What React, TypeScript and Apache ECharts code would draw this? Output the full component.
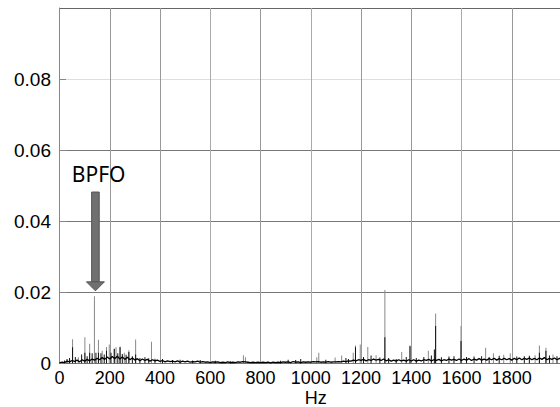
import React, { useEffect, useRef } from "react";
import * as echarts from "echarts";

// Frequency axis (Hz)
const xMin = 0;
const xMax = 1992;
const xInterval = 200;
// Amplitude axis
const yMin = 0;
const yMax = 0.1;
const yInterval = 0.02;

// Noise floor, sampled every 10 Hz from 0 Hz, in units of 1e-4
const floorStepHz = 10;
const floorAmp1e4 = [
  1, 3, 2, 6, 4, 8, 5, 9, 4, 10,
  6, 11, 7, 12, 9, 14, 10, 16, 11, 18,
  12, 19, 13, 20, 12, 18, 11, 17, 10, 15,
  9, 13, 7, 12, 8, 11, 6, 10, 7, 9,
  5, 8, 4, 7, 5, 6, 4, 7, 3, 6,
  4, 6, 3, 5, 4, 6, 3, 5, 3, 4,
  2, 4, 3, 4, 2, 3, 2, 4, 2, 3,
  2, 4, 3, 5, 4, 3, 2, 3, 2, 3,
  2, 3, 2, 3, 1, 3, 2, 3, 2, 4,
  3, 4, 2, 5, 3, 4, 2, 4, 3, 4,
  3, 5, 4, 5, 3, 4, 3, 5, 3, 4,
  4, 5, 4, 6, 5, 7, 6, 9, 7, 10,
  8, 11, 7, 10, 8, 12, 9, 11, 8, 12,
  7, 10, 6, 9, 6, 10, 7, 9, 6, 10,
  7, 10, 6, 9, 7, 10, 8, 11, 7, 10,
  8, 11, 7, 10, 8, 12, 9, 11, 8, 12,
  8, 12, 9, 13, 8, 12, 9, 13, 9, 12,
  9, 13, 10, 14, 9, 13, 10, 14, 10, 13,
  9, 14, 10, 15, 10, 14, 11, 15, 10, 14,
  10, 15, 11, 16, 10, 14, 11, 15, 10, 14,
  12,
];

// Tall (light grey) spectral lines
const greyPeakFreq = [
  52, 75, 101, 120, 139, 155, 170, 187, 198, 218, 225, 241, 258, 276, 303, 366,
  732, 740, 1024, 1032, 1097, 1123, 1169, 1178, 1197, 1227, 1260, 1295, 1362,
  1395, 1468, 1497, 1598, 1696, 1727, 1768, 1794, 1893, 1910, 1936, 1964,
];
const greyPeakAmp = [
  0.0068, 0.0017, 0.0073, 0.0055, 0.0189, 0.0066, 0.0035, 0.0046, 0.0053, 0.0042,
  0.0045, 0.0047, 0.003, 0.0037, 0.0067, 0.0061,
  0.0023, 0.0017, 0.0017, 0.003, 0.0016, 0.0022, 0.003, 0.005, 0.0053, 0.0046,
  0.0023, 0.0206, 0.0032, 0.005, 0.0035, 0.014, 0.0105, 0.0044, 0.0028, 0.0024,
  0.0028, 0.0023, 0.005, 0.0044, 0.0025,
];

// Darker (black) spectral lines
const darkPeakFreq = [
  20, 30, 40, 52, 63, 88, 101, 110, 120, 130, 145, 155, 165, 178, 187, 205, 218,
  232, 241, 250, 265, 276, 290, 303, 320, 340, 355, 380, 410, 450, 480, 530, 560,
  620, 680, 880, 910, 940, 960, 1060, 1140, 1150, 1178, 1210, 1240, 1275, 1295,
  1310, 1340, 1380, 1395, 1420, 1450, 1480, 1492, 1497, 1520, 1550, 1570, 1598,
  1620, 1650, 1680, 1710, 1750, 1820, 1850, 1870, 1910, 1936, 1950, 1980,
];
const darkPeakAmp = [
  0.0008, 0.0012, 0.0015, 0.0045, 0.0018, 0.0025, 0.003, 0.002, 0.003, 0.0028,
  0.003, 0.003, 0.0028, 0.0025, 0.0035, 0.003, 0.004, 0.0028, 0.0045, 0.0026,
  0.0024, 0.0032, 0.002, 0.0025, 0.0015, 0.0017, 0.0014, 0.0013, 0.0012, 0.0009,
  0.001, 0.0008, 0.0009, 0.0007, 0.0006, 0.0007, 0.001, 0.0009, 0.0012, 0.001,
  0.0015, 0.0012, 0.0045, 0.0018, 0.0022, 0.0016, 0.0073, 0.0015, 0.0012, 0.0018,
  0.0048, 0.0015, 0.0018, 0.0022, 0.0039, 0.0105, 0.0017, 0.0019, 0.002, 0.0063,
  0.0018, 0.0019, 0.002, 0.0018, 0.0021, 0.0019, 0.002, 0.0021, 0.003, 0.0035,
  0.0022, 0.002,
];

// BPFO annotation
const bpfoLabel = "BPFO";
const arrowFreq = 143;
const arrowTipAmp = 0.0204;
const arrowTopAmp = 0.0482;
const labelFreq = 156;
const labelAmp = 0.0532;
const xName = "Hz";

const FONT = "'Liberation Sans', Arial, sans-serif";

export default function App() {
  const ref = useRef<HTMLDivElement>(null);

  useEffect(() => {
    document.body.style.margin = "0";
    const chart = echarts.init(ref.current!, null, { renderer: "svg" });

    const floorData = floorAmp1e4.map((v, i) => [i * floorStepHz, v * 1e-4]);
    const greyData = greyPeakFreq.map((f, i) => [f, greyPeakAmp[i]]);
    const darkData = darkPeakFreq.map((f, i) => [f, darkPeakAmp[i]]);

    chart.setOption({
      animation: false,
      backgroundColor: "#ffffff",
      grid: {
        left: 59.5,
        top: 8,
        right: 0,
        bottom: 43.7,
        containLabel: false,
        outerBoundsMode: "none",
      },
      xAxis: {
        type: "value",
        min: xMin,
        max: xMax,
        interval: xInterval,
        name: xName,
        nameLocation: "middle",
        nameGap: 27,
        nameMoveOverlap: false,
        nameTextStyle: {
          fontFamily: FONT,
          fontSize: 18,
          lineHeight: 16,
          color: "#000",
          padding: [0, 0, 0, 12],
        },
        axisLine: { show: true, lineStyle: { color: "#777", width: 1 } },
        axisTick: { show: false },
        axisLabel: {
          showMaxLabel: false,
          fontFamily: FONT,
          fontSize: 18,
          color: "#000",
          margin: 5.5,
          formatter: (v: number) => String(v),
        },
        splitLine: {
          show: true,
          lineStyle: { color: ["#aaa", "#999", "#999", "#aaa", "#999"], width: 1 },
        },
      },
      yAxis: {
        type: "value",
        min: yMin,
        max: yMax,
        interval: yInterval,
        offset: 6.5,
        axisLine: { show: true, lineStyle: { color: "#888", width: 1 } },
        axisTick: {
          show: true,
          inside: true,
          length: 6.5,
          lineStyle: { color: "#888" },
        },
        axisLabel: {
          showMaxLabel: false,
          fontFamily: FONT,
          fontSize: 19,
          color: "#000",
          margin: 2,
        },
        splitLine: {
          show: true,
          lineStyle: {
            color: ["#777", "#777", "#777", "#777", "#dedede", "#666"],
            width: 1,
          },
        },
      },
      series: [
        {
          type: "bar",
          data: greyData,
          barWidth: 1,
          itemStyle: { color: "#888" },
          silent: true,
        },
        {
          type: "bar",
          data: darkData,
          barWidth: 1,
          barGap: "-100%",
          itemStyle: { color: "#111" },
          silent: true,
        },
        {
          type: "line",
          data: floorData,
          symbol: "none",
          showSymbol: false,
          lineStyle: { color: "#000", width: 1.3 },
          silent: true,
        },
      ],
    });

    const tip = chart.convertToPixel({ gridIndex: 0 }, [arrowFreq, arrowTipAmp]) as number[];
    const top = chart.convertToPixel({ gridIndex: 0 }, [arrowFreq, arrowTopAmp]) as number[];
    const lab = chart.convertToPixel({ gridIndex: 0 }, [labelFreq, labelAmp]) as number[];
    const headH = 9;
    const shaftW = 7.6;
    const headW = 18;

    chart.setOption({
      graphic: [
        {
          type: "rect",
          shape: {
            x: tip[0] - shaftW / 2,
            y: top[1],
            width: shaftW,
            height: tip[1] - headH - top[1],
          },
          style: { fill: "#707070", stroke: "#555", lineWidth: 1 },
          z: 100,
        },
        {
          type: "polygon",
          shape: {
            points: [
              [tip[0] - headW / 2, tip[1] - headH],
              [tip[0] + headW / 2, tip[1] - headH],
              [tip[0], tip[1]],
            ],
          },
          style: { fill: "#707070", stroke: "#555", lineWidth: 1 },
          z: 100,
        },
        {
          type: "text",
          x: lab[0],
          y: lab[1],
          style: {
            text: bpfoLabel,
            fontFamily: "'Noto Sans', sans-serif",
            fontSize: 21,
            fill: "#000",
            align: "center",
            verticalAlign: "middle",
          },
          z: 100,
        },
      ],
    });

    return () => chart.dispose();
  }, []);

  return <div ref={ref} style={{ width: 560, height: 407 }} />;
}
